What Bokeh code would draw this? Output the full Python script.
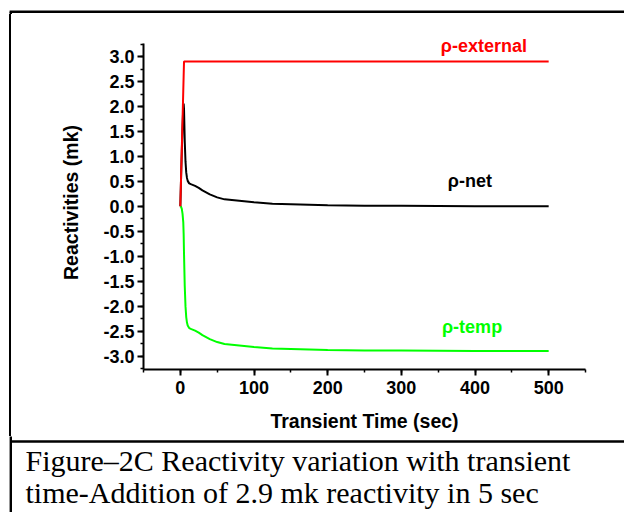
from bokeh.plotting import figure
from bokeh.layouts import column, row
from bokeh.models import (Range1d, SingleIntervalTicker, NumeralTickFormatter,
                          Label, ColumnDataSource, Div)
from bokeh.embed import file_html
from bokeh.resources import INLINE

# ---- data ----
time_s = [0, 1, 2, 3, 4, 4.5, 5, 6, 7, 8, 9, 10, 12, 15, 20, 25, 30, 40, 50,
          60, 80, 100, 125, 150, 200, 250, 300, 400, 500]
rho_external = [0, 0.58, 1.16, 1.74, 2.32, 2.61, 2.9, 2.9, 2.9, 2.9, 2.9, 2.9,
                2.9, 2.9, 2.9, 2.9, 2.9, 2.9, 2.9, 2.9, 2.9, 2.9, 2.9, 2.9,
                2.9, 2.9, 2.9, 2.9, 2.9]
rho_temp = [0, -0.01, -0.05, -0.15, -0.32, -0.55, -0.95, -1.6, -2.0, -2.22,
            -2.33, -2.39, -2.44, -2.46, -2.49, -2.53, -2.58, -2.66, -2.72,
            -2.76, -2.79, -2.82, -2.85, -2.86, -2.88, -2.89, -2.89, -2.9, -2.9]
rho_net = [0, 0.57, 1.11, 1.59, 2.0, 2.06, 1.95, 1.3, 0.9, 0.68, 0.57, 0.51,
           0.46, 0.44, 0.41, 0.37, 0.32, 0.24, 0.18, 0.14, 0.11, 0.08, 0.05,
           0.04, 0.02, 0.01, 0.01, 0.0, 0.0]

series_names = ["\u03c1-external", "\u03c1-net", "\u03c1-temp"]
series_colors = ["#ff0000", "#000000", "#00ff00"]
label_x = [412, 393, 396]
label_y = [3.22, 0.5, -2.42]

x_title = "Transient Time (sec)"
y_title = "Reactivities (mk)"
caption_lines = ["Figure\u20132C Reactivity variation with transient",
                 "time-Addition of 2.9 mk reactivity in 5 sec"]

# ---- layout sizes (page pixels) ----
TOTAL_W = 624
TOP_H = 14
MID_H = 422
CAP_H = 76
LEFT_W = 14
BORDER_X = 10.3
BORDER_TOP_Y = 11.2
BORDER_W = 2.4


def blank(w, h):
    f = figure(width=w, height=h, output_backend="svg", toolbar_location=None,
               x_range=Range1d(0, w), y_range=Range1d(h, 0),
               x_axis_type=None, y_axis_type=None, min_border=0)
    f.outline_line_color = None
    f.grid.visible = False
    f.background_fill_color = "white"
    f.border_fill_color = "white"
    return f


# top strip: top border line + start of left border
top = blank(TOTAL_W, TOP_H)
top.segment(x0=[BORDER_X - BORDER_W / 2, BORDER_X], y0=[BORDER_TOP_Y, BORDER_TOP_Y],
            x1=[TOTAL_W + 10, BORDER_X], y1=[BORDER_TOP_Y, TOP_H + 2],
            line_color="black", line_width=BORDER_W)

# left strip: left border (plain block, no text)
left = Div(text=('<div style="margin:0 0 0 %.1fpx;padding:0;width:%.1fpx;'
                 'height:%dpx;background:#000"></div>')
           % (BORDER_X - BORDER_W / 2, BORDER_W, MID_H),
           width=LEFT_W, height=MID_H, margin=0)

# ---- chart ----
FRAME_TOP = 35      # page y of plotting frame top
FRAME_BOT = 369     # page y of x-axis
PX_PER_UNIT = 49.9
Y_MIN = -3.27
p = figure(width=TOTAL_W - LEFT_W, height=MID_H, output_backend="svg",
           toolbar_location=None,
           x_range=Range1d(-50, 550),
           y_range=Range1d(Y_MIN, Y_MIN + (FRAME_BOT - FRAME_TOP) / PX_PER_UNIT),
           min_border_left=143 - LEFT_W, min_border_right=39,
           min_border_top=FRAME_TOP - TOP_H,
           min_border_bottom=TOP_H + MID_H - FRAME_BOT)
p.outline_line_color = None
p.grid.visible = False
p.background_fill_color = "white"
p.border_fill_color = "white"

src = ColumnDataSource(dict(t=time_s, ext=rho_external, net=rho_net, tmp=rho_temp))
p.line("t", "tmp", source=src, line_color=series_colors[2], line_width=2)
p.line("t", "net", source=src, line_color=series_colors[1], line_width=2)
p.line("t", "ext", source=src, line_color=series_colors[0], line_width=2)

for name, c, lx, ly in zip(series_names, series_colors, label_x, label_y):
    p.add_layout(Label(x=lx, y=ly, text=name, text_color=c, text_align="center",
                       text_baseline="middle", text_font="Liberation Sans",
                       text_font_style="bold", text_font_size="18px"))

font = "Liberation Sans"
for ax in (p.xaxis[0], p.yaxis[0]):
    ax.axis_line_width = 2
    ax.axis_line_color = "black"
    ax.major_tick_line_width = 2
    ax.minor_tick_line_width = 1.5
    ax.major_tick_line_color = "black"
    ax.minor_tick_line_color = "black"
    ax.major_tick_in = 0
    ax.minor_tick_in = 0
    ax.major_tick_out = 6
    ax.minor_tick_out = 3
    ax.major_label_text_font = font
    ax.major_label_text_font_style = "bold"
    ax.major_label_text_font_size = "18px"
    ax.major_label_text_color = "black"
    ax.axis_label_text_font = font
    ax.axis_label_text_font_style = "bold"
    ax.axis_label_text_font_size = "19.5px"
    ax.axis_label_text_color = "black"

p.xaxis.ticker = SingleIntervalTicker(interval=100, num_minor_ticks=2)
p.yaxis.ticker = SingleIntervalTicker(interval=0.5, num_minor_ticks=2)
p.yaxis.formatter = NumeralTickFormatter(format="0.0")
p.xaxis.bounds = (-50, 550)
p.yaxis.bounds = (-3.27, 3.27)
p.xaxis.axis_label = x_title
p.yaxis.axis_label = y_title
p.xaxis.major_label_standoff = 5
p.yaxis.major_label_standoff = 3
p.xaxis.axis_label_standoff = 13
p.yaxis.axis_label_standoff = 18

# ---- caption strip: separator, left border, caption text ----
cap = blank(TOTAL_W, CAP_H)
Y0 = TOP_H + MID_H
SEP_Y = 441 - Y0
cap.segment(x0=[BORDER_X, BORDER_X], y0=[-2, SEP_Y], x1=[BORDER_X, TOTAL_W + 10],
            y1=[CAP_H + 2, SEP_Y], line_color="black", line_width=BORDER_W)
caption_centers = [460, 492]   # vertical centres of the caption lines (page px)
for line, yc in zip(caption_lines, caption_centers):
    cap.add_layout(Label(x=25, y=yc - Y0, text=line, text_font="Liberation Serif",
                         text_font_size="30px", text_color="black",
                         text_baseline="middle", text_align="left"))

layout = column(top, row(left, p, spacing=0), cap, spacing=0)
open("out.html", "w").write(file_html(layout, INLINE))
